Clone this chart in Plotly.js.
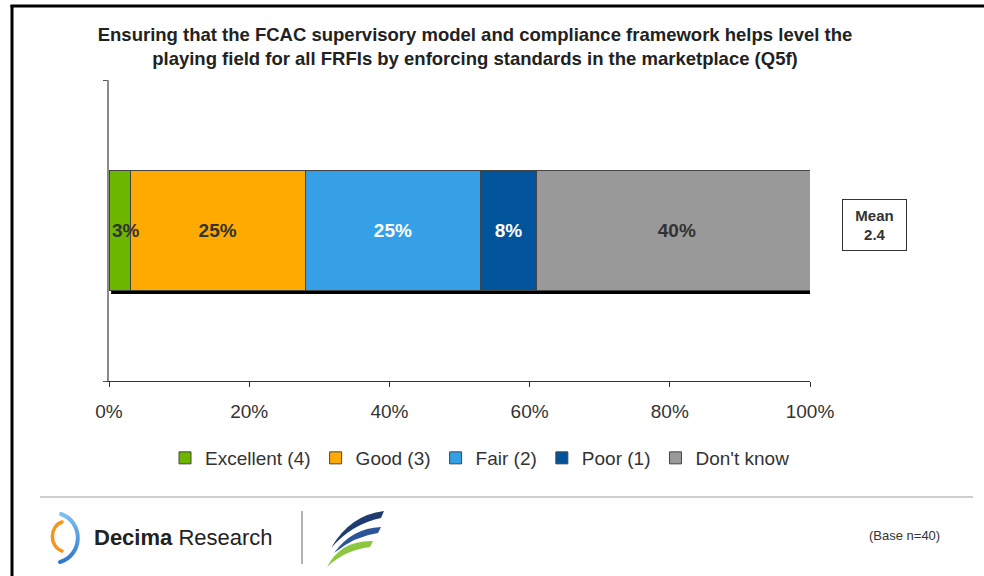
<!DOCTYPE html>
<html>
<head>
<meta charset="utf-8">
<script src="https://cdn.plot.ly/plotly-3.0.1.min.js"></script>
<style>
  html, body { margin:0; padding:0; background:#fff; }
  #wrap { position:relative; width:984px; height:576px; overflow:hidden; }
  #chart { position:absolute; left:0; top:0; width:984px; height:576px; }
  #deco { position:absolute; left:0; top:0; pointer-events:none; }
</style>
</head>
<body>
<div id="wrap">
  <div id="chart"></div>
  <svg id="deco" width="984" height="576" xmlns="http://www.w3.org/2000/svg">
    <defs>
      <linearGradient id="blueArc" x1="0" y1="0" x2="0" y2="1">
        <stop offset="0" stop-color="#7FBFEF"/>
        <stop offset="1" stop-color="#2F78D0"/>
      </linearGradient>
    </defs>
    <!-- frame -->
    <line x1="12" y1="5" x2="12" y2="576" stroke="#000" stroke-width="3"/>
    <line x1="10.5" y1="6" x2="984" y2="6" stroke="#000" stroke-width="3"/>
    <!-- footer rule -->
    <line x1="40" y1="497" x2="973" y2="497" stroke="#cfcfcf" stroke-width="2"/>
    <!-- separator -->
    <line x1="302" y1="511" x2="302" y2="564" stroke="#9a9a9a" stroke-width="1.5"/>
    <!-- decima logo arcs -->
    <path d="M 62 522 A 13 15 0 0 0 62 551" fill="none" stroke="#F7941D" stroke-width="3.5" stroke-linecap="round"/>
    <path d="M 61 514 A 24 25 0 0 1 60 562" fill="none" stroke="url(#blueArc)" stroke-width="4" stroke-linecap="round"/>
    <!-- swooshes -->
    <path d="M 384 511 Q 350 515 331 548 Q 352 524 381 518 Z" fill="#1F3B70"/>
    <path d="M 381 527 Q 352 528 334 553 Q 355 536 378 533 Z" fill="#2C5599"/>
    <path d="M 373 541 Q 341 540 327 567 Q 345 550 370 547 Z" fill="#8DC63F"/>
  </svg>
</div>
<script>
// ---- data ----
var categories = ["Excellent (4)", "Good (3)", "Fair (2)", "Poor (1)", "Don't know"];
var values = [3, 25, 25, 8, 40];
var scores = [4, 3, 2, 1, null];
var colors = ["#6DB600", "#FFAA00", "#36A0E6", "#02549A", "#999999"];
var labelColors = ["#333333", "#333333", "#ffffff", "#ffffff", "#333333"];
var tickVals = [0, 20, 40, 60, 80, 100];
var tickLabels = ["0%", "20%", "40%", "60%", "80%", "100%"];
var rowName = ["Q5f"];
var titleText = "<b>Ensuring that the FCAC supervisory model and compliance framework helps level the<br>playing field for all FRFIs by enforcing standards in the marketplace (Q5f)</b>";
var baseText = "(Base n=40)";

// mean of rated answers
var num = 0, den = 0;
for (var i = 0; i < values.length; i++) {
  if (scores[i] !== null) { num += scores[i] * values[i]; den += values[i]; }
}
var meanVal = (num / den).toFixed(1);
var total = values.reduce(function(a, b){ return a + b; }, 0);

var FONT = "Liberation Sans, Arial, sans-serif";
var LABEL_SIZE = 19;
var traces = categories.map(function(c, i) {
  return {
    type: "bar",
    orientation: "h",
    name: c,
    y: rowName,
    x: [values[i]],
    width: 0.4,
    marker: { color: colors[i], line: { color: "#444", width: 1 } },
    // first (narrow) segment label is drawn as an annotation so it can overflow
    text: [i === 0 ? "" : values[i] + "%"],
    textposition: i === 0 ? "none" : "inside",
    insidetextanchor: "middle",
    textangle: 0,
    constraintext: "none",
    textfont: { family: FONT, size: LABEL_SIZE, color: labelColors[i], weight: "bold" },
    hoverinfo: "none"
  };
});

// pixel -> paper helpers (plot area: x 109..810, y 80..381)
var L = 109, R = 174, T = 80, B = 195, W = 984, H = 576;
var pw = W - L - R, ph = H - T - B;
function px(x) { return (x - L) / pw; }
function py(y) { return 1 - (y - T) / ph; }

var layout = {
  width: W, height: H,
  margin: { l: L, r: R, t: T, b: B, pad: 0 },
  paper_bgcolor: "rgba(0,0,0,0)",
  plot_bgcolor: "rgba(0,0,0,0)",
  barmode: "stack",
  bargap: 0,
  showlegend: true,
  font: { family: FONT, color: "#333" },
  title: {
    text: titleText,
    font: { family: FONT, size: 18.5, color: "#222" },
    x: 475 / W, xanchor: "center", xref: "container",
    y: 1 - 41 / H, yanchor: "middle", yref: "container"
  },
  xaxis: {
    range: [0, 100],
    tickvals: tickVals,
    ticktext: tickLabels,
    ticks: "outside", ticklen: 5, tickcolor: "#333", tickwidth: 1,
    showline: true, linecolor: "#333", linewidth: 1,
    showgrid: false, zeroline: false,
    tickfont: { family: FONT, size: 19, color: "#333" },
    ticklabelstandoff: 8,
    fixedrange: true
  },
  yaxis: {
    type: "category",
    range: [-0.5, 0.5],
    showline: true, linecolor: "#8a8a8a", linewidth: 2,
    ticks: "outside", tickson: "boundaries", ticklen: 4, tickcolor: "#555",
    showticklabels: false, showgrid: false, zeroline: false,
    fixedrange: true
  },
  legend: {
    orientation: "h",
    traceorder: "normal",
    x: px(165), xanchor: "left",
    y: py(458), yanchor: "middle",
    font: { family: FONT, size: 19, color: "#333" },
    itemwidth: 30,
    bgcolor: "rgba(0,0,0,0)"
  },
  shapes: [
    { type: "line", xref: "x", yref: "y", x0: 0.3, x1: total, y0: -0.205, y1: -0.205,
      line: { color: "#000", width: 3.5 }, layer: "below" }
  ],
  annotations: [
    { xref: "x", yref: "y", x: 0, y: rowName[0], xanchor: "left", yanchor: "middle", xshift: 1,
      text: "<b>" + values[0] + "%</b>", showarrow: false,
      font: { family: FONT, size: LABEL_SIZE, color: labelColors[0] } },
    { xref: "paper", yref: "paper", x: px(874.5), y: py(225), xanchor: "center", yanchor: "middle",
      text: "<b>Mean<br>" + meanVal + "</b>", showarrow: false,
      font: { family: FONT, size: 15, color: "#333" },
      bordercolor: "#333", borderwidth: 1, bgcolor: "#fff",
      width: 61, height: 48, align: "center" },
    { xref: "paper", yref: "paper", x: px(92), y: py(537), xanchor: "left", yanchor: "middle",
      text: "<b>Decima</b> Research", showarrow: false,
      font: { family: FONT, size: 22, color: "#222" } },
    { xref: "paper", yref: "paper", x: px(904), y: py(535), xanchor: "center", yanchor: "middle",
      text: baseText, showarrow: false,
      font: { family: FONT, size: 13, color: "#333" } }
  ]
};

Plotly.newPlot("chart", traces, layout, { displayModeBar: false, staticPlot: true });
</script>
</body>
</html>
